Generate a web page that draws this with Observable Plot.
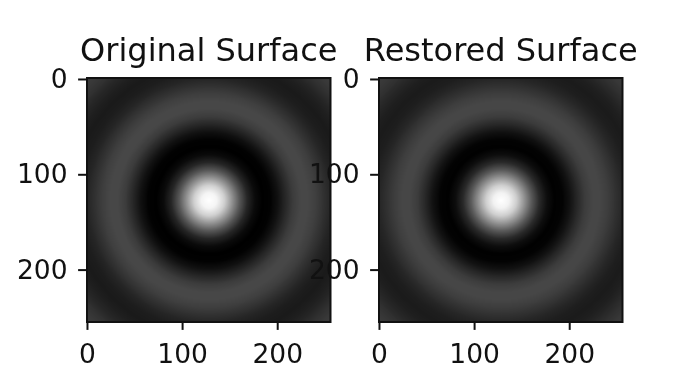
<!DOCTYPE html>
<html><head><meta charset="utf-8">
<script src="https://cdn.jsdelivr.net/npm/d3@7"></script>
<script src="https://cdn.jsdelivr.net/npm/@observablehq/plot@0.6"></script>
<style>
html,body{margin:0;padding:0;background:#fff;width:690px;height:388px;overflow:hidden}
#c{position:relative;width:690px;height:388px;filter:blur(0.5px)}
#c svg{position:absolute;top:0;overflow:visible;background:transparent}
</style></head><body><div id="c"></div>
<script>
const titles = ["Original Surface", "Restored Surface"];
const ticks = [0, 100, 200];
const radii = [0,8,16,24,32,40,48,56,64,72,80,88,96,104,112,120,128,136,144,152,160,168,176,184];
const originalGray = [255,245,208,146,86,38,11,0,2,17,39,60,71,71,63,50,37,29,26,31,39,50,58,60];
const restoredGray = [255,243,207,148,89,42,14,1,3,18,40,60,70,70,62,50,38,30,27,31,39,49,57,59];
const rgb = v => `rgb(${v},${v},${v})`;
const panel = (title, grays) => Plot.plot({
  width: 345, height: 388,
  marginLeft: 86.5, marginRight: 15, marginTop: 77.5, marginBottom: 66.5,
  style: {background: "transparent", fontFamily: "DejaVu Sans", color: "#000", overflow: "visible"},
  x: {domain: [-0.5, 255.5]},
  y: {domain: [-0.5, 255.5], reverse: true},
  color: {type: "linear", domain: radii, range: grays.map(rgb)},
  marks: [
    Plot.raster({x1: -0.5, x2: 255.5, y1: -0.5, y2: 255.5, width: 256, height: 256,
      fill: (x, y) => Math.hypot(x - 128, y - 128)}),
    Plot.frame({stroke: "#111", strokeWidth: 2}),
    Plot.axisX({ticks, tickFormat: d => String(d), anchor: "bottom", label: null, tickSize: 8.4, tickPadding: 14, fontSize: 26.5, strokeWidth: 2, stroke: "#111", fill: "#111"}),
    Plot.axisY({ticks, tickFormat: d => String(d), anchor: "left", label: null, tickSize: 8.4, tickPadding: 11, fontSize: 26.5, strokeWidth: 2, stroke: "#111", fill: "#111", textStroke: "none", dy: 1}),
    Plot.text([title], {text: d => d, frameAnchor: "top", dy: -27, fontSize: 32, fill: "#111", lineAnchor: "middle"})
  ]
});
const c = document.getElementById("c");
[[titles[0], originalGray, 0], [titles[1], restoredGray, 292]].forEach(([t, g, l]) => {
  const p = panel(t, g);
  p.style.left = l + "px";
  c.appendChild(p);
});
</script></body></html>
